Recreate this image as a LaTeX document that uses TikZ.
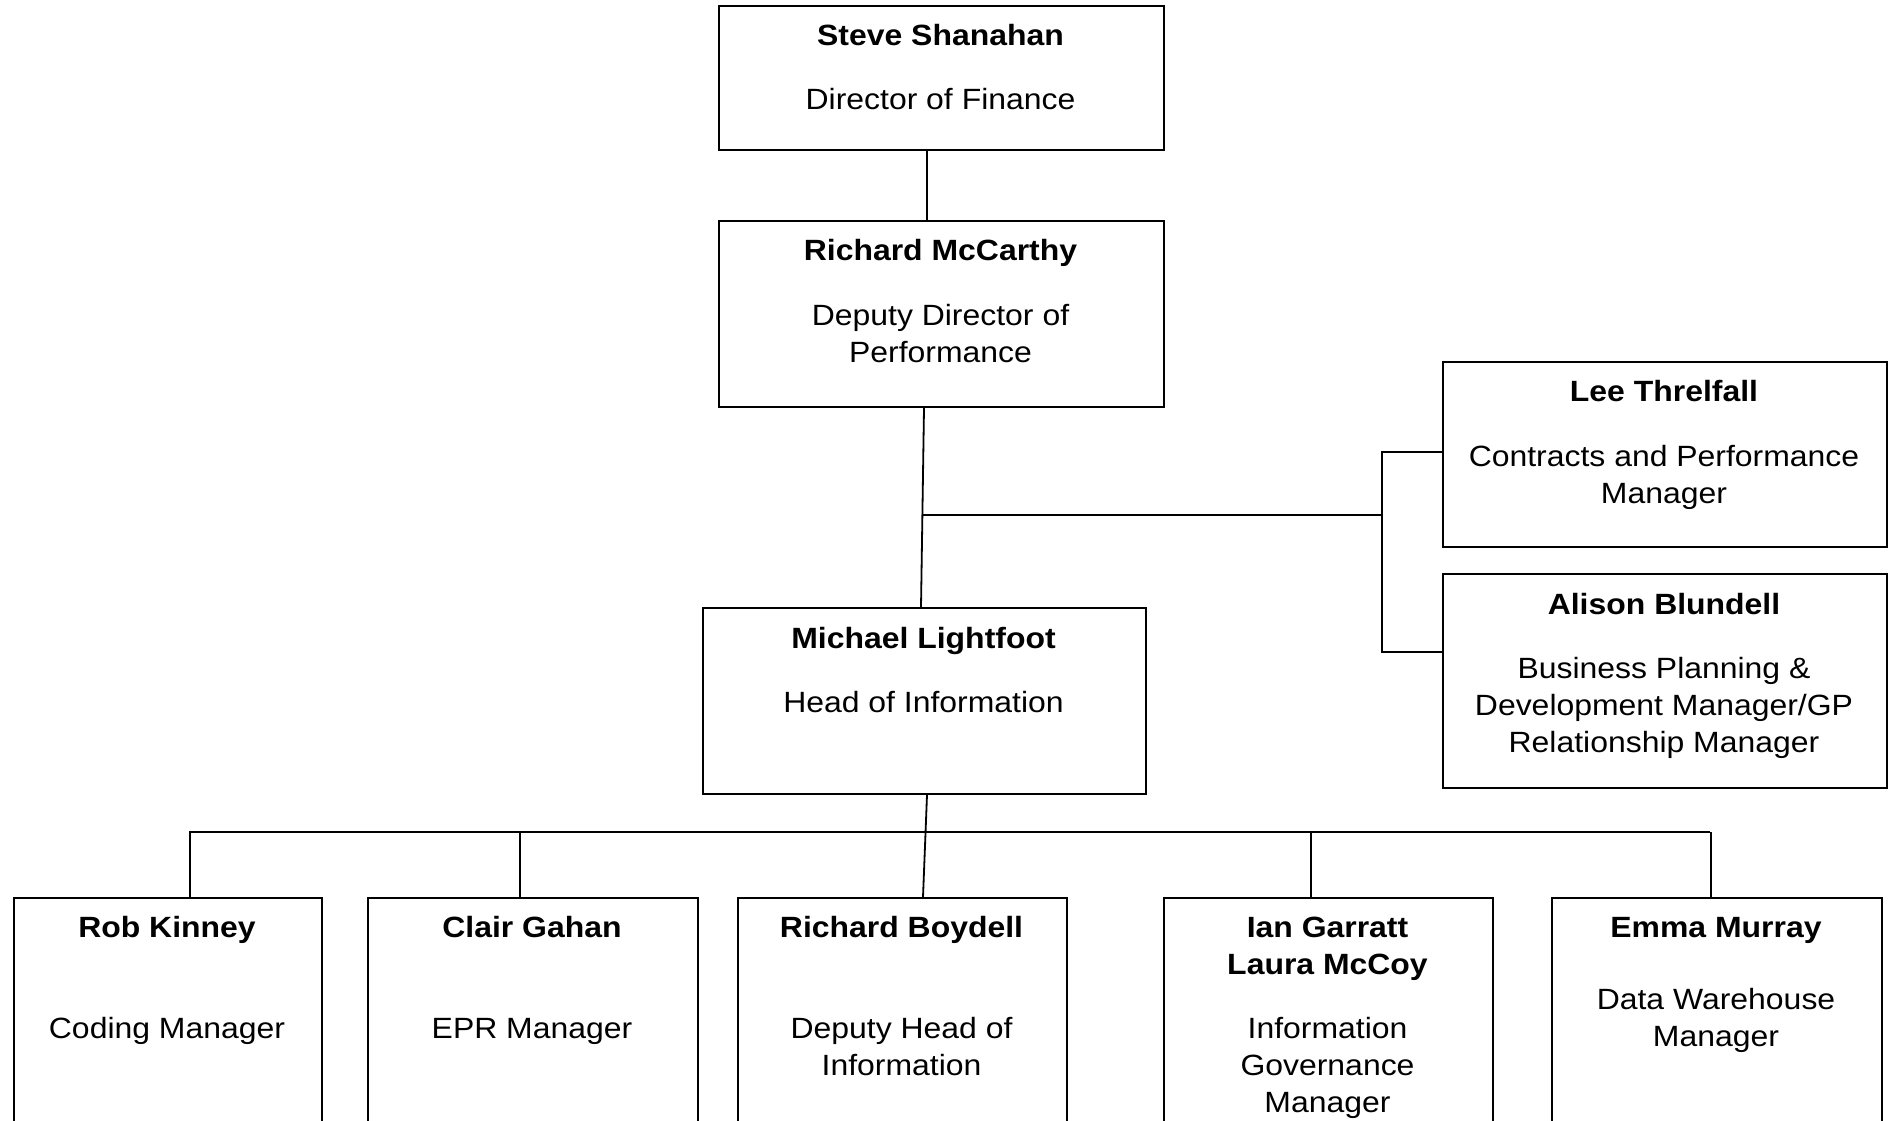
\documentclass[tikz,border=0pt]{standalone}
\usepackage{fontspec}
\setmainfont{Liberation Sans}[FakeStretch=1.09]
\begin{document}
\begin{tikzpicture}[x=1pt,y=-1pt,
  box/.style={draw, line width=2pt, rectangle, inner sep=0pt, anchor=north west},
  txt/.style={inner sep=0pt, anchor=base, align=center, font=\fontsize{29.3}{37}\selectfont},
  link/.style={draw, line width=1.8pt}]
\useasboundingbox (0,0) rectangle (1892,1121);
\clip (0,0) rectangle (1892,1121);
% boxes
\node[box, minimum width=445pt, minimum height=144pt] (steve) at (718,5) {};
\node[box, minimum width=445pt, minimum height=186pt] (rmc) at (718,220) {};
\node[box, minimum width=444pt, minimum height=185pt] (lee) at (1442,361) {};
\node[box, minimum width=444pt, minimum height=214pt] (ali) at (1442,573) {};
\node[box, minimum width=443pt, minimum height=186pt] (mike) at (702,607) {};
\node[box, minimum width=308pt, minimum height=320pt] (rob) at (13,897) {};
\node[box, minimum width=330pt, minimum height=320pt] (clair) at (367,897) {};
\node[box, minimum width=329pt, minimum height=320pt] (boyd) at (737,897) {};
\node[box, minimum width=329pt, minimum height=320pt] (ian) at (1163,897) {};
\node[box, minimum width=330pt, minimum height=320pt] (emma) at (1551,897) {};
% texts (base anchor = baseline of the last line)
\node[txt] (steveN) at (940.5,46) {\bfseries Steve Shanahan};
\node[txt] (steveT) at (940.5,110) {Director of Finance};
\node[txt] (rmcN) at (940.5,260) {\bfseries Richard McCarthy};
\node[txt] (rmcT) at (940.5,362) {Deputy Director of\\Performance};
\node[txt] (leeN) at (1664,401) {\bfseries Lee Threlfall};
\node[txt] (leeT) at (1664,503) {Contracts and Performance\\Manager};
\node[txt] (aliN) at (1664,614) {\bfseries Alison Blundell};
\node[txt] (aliT) at (1664,752) {Business Planning \&\\Development Manager/GP\\Relationship Manager};
\node[txt] (mikeN) at (923.5,648) {\bfseries Michael Lightfoot};
\node[txt] (mikeT) at (923.5,712) {Head of Information};
\node[txt] (robN) at (167,937) {\bfseries Rob Kinney};
\node[txt] (robT) at (167,1038) {Coding Manager};
\node[txt] (clairN) at (532,937) {\bfseries Clair Gahan};
\node[txt] (clairT) at (532,1038) {EPR Manager};
\node[txt] (boydN) at (901.5,937) {\bfseries Richard Boydell};
\node[txt] (boydT) at (901.5,1075) {Deputy Head of\\Information};
\node[txt] (ianN) at (1327.5,974) {\bfseries Ian Garratt\\\bfseries Laura McCoy};
\node[txt] (ianT) at (1327.5,1112) {Information\\Governance\\Manager};
\node[txt] (emmaN) at (1716,937) {\bfseries Emma Murray};
\node[txt] (emmaT) at (1716,1046) {Data Warehouse\\Manager};
% connectors
\draw[link] ([xshift=-14.5pt]steve.south) -- ([xshift=-14.5pt]rmc.north);
\draw[link] ([xshift=-17.5pt]rmc.south) -- ([xshift=-3.5pt]mike.north);
\coordinate (jA) at (921.5,515);
\coordinate (vj) at (1382,515);
\draw[link] (jA) -- (vj);
\draw[link] ([yshift=2.5pt]lee.west) -| (vj) |- ([yshift=29pt]ali.west);
\draw[link] ([xshift=2.5pt]mike.south) -- ([xshift=20.5pt]boyd.north);
\coordinate (busL) at (189,832);
\coordinate (busR) at (1710,832);
\draw[link] (busL) -- (busR);
\draw[link] ([xshift=22pt]rob.north) -- ([xshift=22pt]rob.north |- busL);
\draw[link] ([xshift=-13pt]clair.north) -- ([xshift=-13pt]clair.north |- busL);
\draw[link] ([xshift=-17.5pt]ian.north) -- ([xshift=-17.5pt]ian.north |- busL);
\draw[link] ([xshift=-6pt]emma.north) -- ([xshift=-6pt]emma.north |- busL);
\end{tikzpicture}
\end{document}
